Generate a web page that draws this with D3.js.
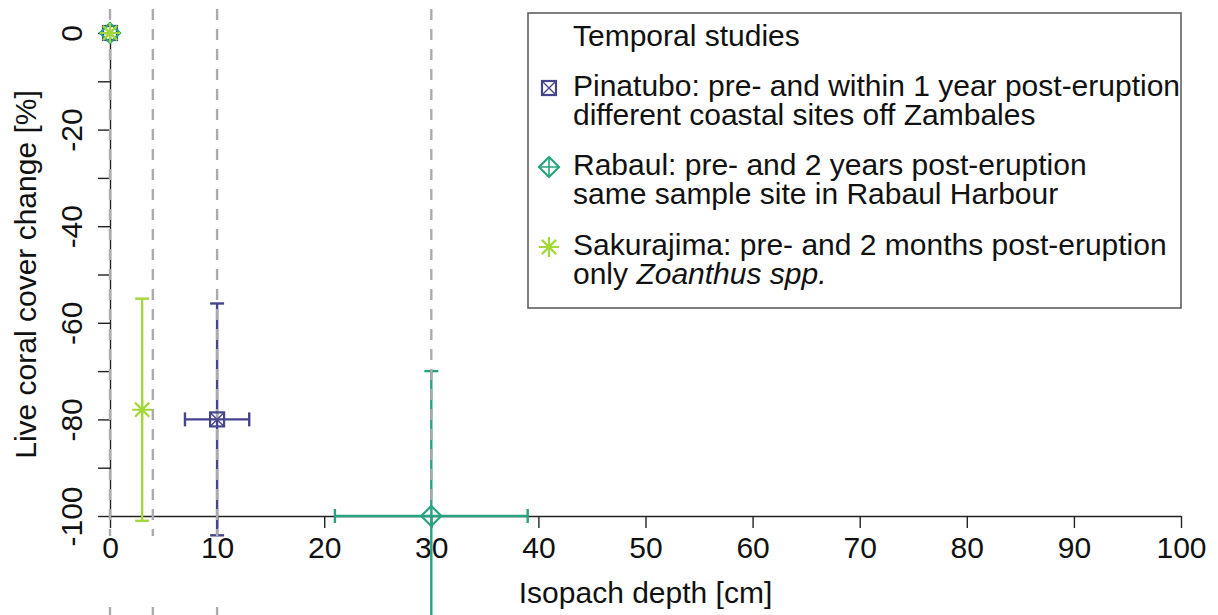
<!DOCTYPE html>
<html>
<head>
<meta charset="utf-8">
<script src="https://cdn.jsdelivr.net/npm/d3@7"></script>
<style>
  body { margin: 0; background: #fff; }
  svg { display: block; font-family: "Liberation Sans", Arial, sans-serif; }
</style>
</head>
<body>
<div id="chart"></div>
<script>
// data
const studies = ['Pinatubo', 'Rabaul', 'Sakurajima'];
const depth = [10, 30, 3];
const depthLo = [7, 21, null];
const depthHi = [13, 39, null];
const change = [-80, -100, -78];
const changeLo = [-104, -130, -101];
const changeHi = [-56, -70, -55];
const colors = ['#45448e', '#27a381', '#a3d83a'];
const shapes = ['squareX', 'diamondPlus', 'asterisk'];
const legendTitle = 'Temporal studies';
const legendLine1 = ['Pinatubo: pre- and within 1 year post-eruption',
                     'Rabaul: pre- and 2 years post-eruption',
                     'Sakurajima: pre- and 2 months post-eruption'];
const legendLine2 = ['different coastal sites off Zambales',
                     'same sample site in Rabaul Harbour',
                     'only '];
const refLines = [0, 4, 10, 30];
const xTicks = d3.range(0, 101, 10);
const yTicks = d3.range(0, -101, -10);

const width = 1218, height = 615;
const font = 30;

const svg = d3.select('#chart')
  .append('svg')
  .attr('width', width)
  .attr('height', height);

const x = d3.scaleLinear().domain([0, 100]).range([110, 1181]);
const y = d3.scaleLinear().domain([0, -100]).range([33, 516]);

// axes
const xAxis = svg.append('g')
  .attr('transform', `translate(0,${y(-100)})`)
  .call(d3.axisBottom(x).tickValues(xTicks).tickSize(12).tickSizeOuter(0).tickPadding(9));
const yAxis = svg.append('g')
  .attr('transform', `translate(${x(0)},0)`)
  .call(d3.axisLeft(y).tickValues(yTicks).tickSize(12).tickSizeOuter(0)
    .tickFormat(d => d % 20 === 0 ? d : ''));

[xAxis, yAxis].forEach(a => {
  a.select('.domain').attr('stroke', '#222').attr('stroke-width', 1.4);
  a.selectAll('.tick line').attr('stroke', '#222').attr('stroke-width', 1.4);
  a.selectAll('text').attr('fill', '#111').style('font-size', font + 'px')
    .style('font-family', '"Liberation Sans", Arial, sans-serif');
});
yAxis.selectAll('.tick text')
  .attr('x', null).attr('dy', null)
  .attr('text-anchor', 'middle')
  .attr('transform', 'translate(-28,0) rotate(-90)');

svg.append('text')
  .attr('x', (x(0) + x(100)) / 2)
  .attr('y', 603)
  .attr('text-anchor', 'middle')
  .style('font-size', font + 'px')
  .attr('fill', '#111')
  .text('Isopach depth [cm]');

svg.append('text')
  .attr('transform', `translate(36,${(y(0) + y(-100)) / 2}) rotate(-90)`)
  .attr('text-anchor', 'middle')
  .style('font-size', font + 'px')
  .attr('fill', '#111')
  .text('Live coral cover change [%]');

// error bars
const bars = svg.append('g');
studies.forEach((s, i) => {
  const g = bars.append('g')
    .attr('stroke', colors[i])
    .attr('stroke-width', 2.4)
    .attr('fill', 'none');
  g.append('line')
    .attr('x1', x(depth[i])).attr('x2', x(depth[i]))
    .attr('y1', y(changeLo[i])).attr('y2', y(changeHi[i]));
  [changeLo[i], changeHi[i]].forEach(v => {
    g.append('line')
      .attr('x1', x(depth[i]) - 7).attr('x2', x(depth[i]) + 7)
      .attr('y1', y(v)).attr('y2', y(v));
  });
  if (depthLo[i] !== null) {
    g.append('line')
      .attr('x1', x(depthLo[i])).attr('x2', x(depthHi[i]))
      .attr('y1', y(change[i])).attr('y2', y(change[i]));
    [depthLo[i], depthHi[i]].forEach(v => {
      g.append('line')
        .attr('x1', x(v)).attr('x2', x(v))
        .attr('y1', y(change[i]) - 7).attr('y2', y(change[i]) + 7);
    });
  }
});

// grey dashed reference lines
svg.append('g').selectAll('line')
  .data(refLines)
  .enter()
  .append('line')
  .attr('x1', d => x(d)).attr('x2', d => x(d))
  .attr('y1', 9)
  .attr('y2', d => d === 30 ? y(-100) - 2 : 536)
  .attr('stroke', '#ababab')
  .attr('stroke-width', 2.4)
  .attr('stroke-dasharray', '11,9');
svg.append('g').selectAll('line')
  .data(refLines.filter(d => d !== 30))
  .enter()
  .append('line')
  .attr('x1', d => x(d)).attr('x2', d => x(d))
  .attr('y1', 607).attr('y2', 615)
  .attr('stroke', '#ababab')
  .attr('stroke-width', 2.4);

// point symbols
function drawSymbol(g, shape, cx, cy, color) {
  const s = g.append('g')
    .attr('stroke', color)
    .attr('stroke-width', 2.2)
    .attr('fill', 'none');
  if (shape === 'squareX') {
    s.append('rect').attr('x', cx - 7).attr('y', cy - 7).attr('width', 14).attr('height', 14);
    s.append('path').attr('d', `M${cx - 7},${cy - 7}L${cx + 7},${cy + 7}M${cx + 7},${cy - 7}L${cx - 7},${cy + 7}`)
      .attr('stroke-width', 1.4);
  } else if (shape === 'diamondPlus') {
    s.append('path').attr('d', `M${cx},${cy - 10}L${cx + 10},${cy}L${cx},${cy + 10}L${cx - 10},${cy}Z`);
    s.append('path').attr('d', `M${cx},${cy - 10}V${cy + 10}M${cx - 10},${cy}H${cx + 10}`)
      .attr('stroke-width', 1.6);
  } else {
    const r = 10, d = 7.1;
    s.append('path').attr('d',
      `M${cx},${cy - r}V${cy + r}M${cx - r},${cy}H${cx + r}` +
      `M${cx - d},${cy - d}L${cx + d},${cy + d}M${cx + d},${cy - d}L${cx - d},${cy + d}`);
  }
}

const pts = svg.append('g');
studies.forEach((s, i) => {
  drawSymbol(pts, shapes[i], x(0), y(0), colors[i]);
  drawSymbol(pts, shapes[i], x(depth[i]), y(change[i]), colors[i]);
});

// legend
const legend = svg.append('g');
legend.append('rect')
  .attr('x', 528).attr('y', 13)
  .attr('width', 1181 - 528).attr('height', 308 - 13)
  .attr('fill', '#fff')
  .attr('stroke', '#555')
  .attr('stroke-width', 1.5);
legend.append('text')
  .attr('x', 573).attr('y', 46)
  .style('font-size', font + 'px')
  .attr('fill', '#111')
  .text(legendTitle);

const base1 = [96, 175, 255];
studies.forEach((s, i) => {
  drawSymbol(legend, shapes[i], 549, base1[i] - 8, colors[i]);
  legend.append('text')
    .attr('x', 573).attr('y', base1[i])
    .style('font-size', font + 'px')
    .attr('fill', '#111')
    .text(legendLine1[i]);
  const t2 = legend.append('text')
    .attr('x', 573).attr('y', base1[i] + 29)
    .style('font-size', font + 'px')
    .attr('fill', '#111')
    .text(legendLine2[i]);
  if (s === 'Sakurajima') {
    t2.append('tspan').style('font-style', 'italic').text('Zoanthus spp.');
  }
});
</script>
</body>
</html>
